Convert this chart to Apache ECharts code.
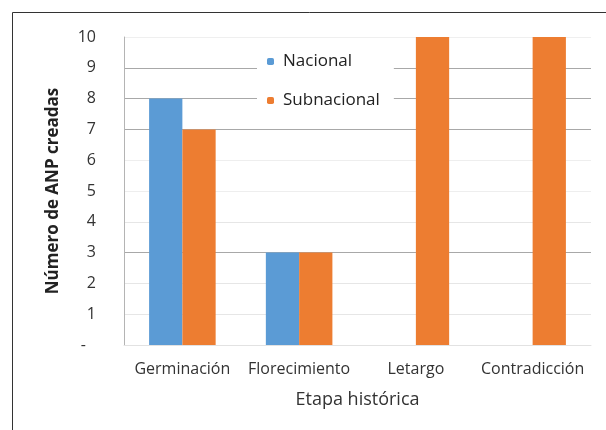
<!DOCTYPE html>
<html>
<head>
<meta charset="utf-8">
<script src="https://cdn.jsdelivr.net/npm/echarts@6/dist/echarts.min.js"></script>
<style>
  html, body { margin: 0; padding: 0; background: #fff; }
  #chart { width: 606px; height: 430px; }
</style>
</head>
<body>
<div id="chart"></div>
<script>
const categories = ['Germinación', 'Florecimiento', 'Letargo', 'Contradicción']
const nacional    = [8, 3, 0, 0]
const subnacional = [7, 3, 10, 10]

const font = '"Open Sans", "Noto Sans", sans-serif'
const chart = echarts.init(document.getElementById('chart'))

// gridlines in the source image come out in two shades
const dk = '#a8a8a8', lt = '#e6e6e6'

chart.setOption({
  backgroundColor: '#fff',
  animation: false,
  textStyle: { fontFamily: font },
  graphic: [{
    type: 'rect', z: 100, silent: true,
    shape: { x: 12.5, y: 12.5, width: 640, height: 460 },
    style: { fill: 'none', stroke: '#333', lineWidth: 1 }
  }],
  legend: {
    orient: 'vertical',
    left: 257, top: 49,
    itemWidth: 7, itemHeight: 7, itemGap: 22,
    padding: [4, 14, 4, 10],
    backgroundColor: '#fff',
    textStyle: { fontSize: 17, color: '#222', fontFamily: font, padding: [0, 0, 0, 4] },
    data: ['Nacional', 'Subnacional']
  },
  grid: { left: 124, right: 15, top: 37, bottom: 85 },
  xAxis: {
    type: 'category',
    data: categories,
    name: 'Etapa histórica',
    nameLocation: 'middle',
    nameGap: 46,
    nameTextStyle: { fontSize: 18, color: '#333', fontFamily: font },
    axisLine: { lineStyle: { color: '#e2e2e2' } },
    axisTick: { show: false },
    axisLabel: { fontSize: 16, color: '#333', margin: 16, interval: 0 }
  },
  yAxis: {
    type: 'value',
    min: 0, max: 10, interval: 1,
    name: 'Número de ANP creadas',
    nameLocation: 'middle',
    nameGap: 62,
    nameTextStyle: { fontSize: 17, fontWeight: 'bold', color: '#222', fontFamily: font },
    axisLine: { show: true, lineStyle: { color: '#b4b4b4' } },
    axisTick: { show: false },
    splitLine: { lineStyle: { color: [lt, lt, lt, dk, lt, '#eeeeee', '#eeeeee', dk, dk, dk, '#efefef'] } },
    axisLabel: {
      fontSize: 16, color: '#333', margin: 28, align: 'right',
      formatter: v => v === 0 ? '{d|-}' : String(v),
      rich: { d: { fontSize: 16, color: '#333', padding: [0, 10, 0, 0] } }
    }
  },
  series: [
    {
      name: 'Nacional', type: 'bar', data: nacional,
      barGap: '0%', barCategoryGap: '43%',
      itemStyle: { color: '#5b9bd5' }
    },
    {
      name: 'Subnacional', type: 'bar', data: subnacional,
      barGap: '0%', barCategoryGap: '43%',
      itemStyle: { color: '#ed7d31' }
    }
  ]
})
</script>
</body>
</html>
